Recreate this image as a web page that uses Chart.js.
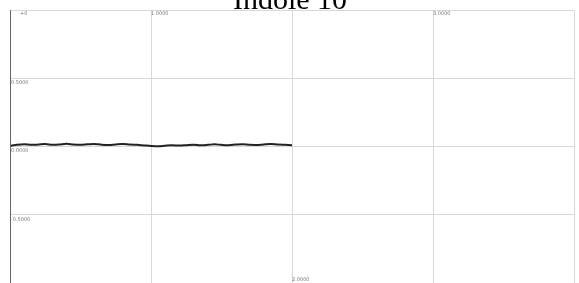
<!DOCTYPE html>
<html>
<head>
<meta charset="utf-8">
<script src="https://cdn.jsdelivr.net/npm/chart.js@4/dist/chart.umd.min.js"></script>
<style>
  html, body { margin: 0; padding: 0; background: #fff; }
  #wrap { width: 579px; height: 283px; position: relative; }
</style>
</head>
<body>
<div id="wrap"><canvas id="c"></canvas></div>
<script>
const titleText = 'Indole 10';
const xValues = [0, 0.05, 0.1, 0.15, 0.2, 0.25, 0.3, 0.35, 0.4, 0.45, 0.5, 0.55, 0.6, 0.65, 0.7, 0.75, 0.8, 0.85, 0.9, 0.95,
  1.0, 1.05, 1.1, 1.15, 1.2, 1.25, 1.3, 1.35, 1.4, 1.45, 1.5, 1.55, 1.6, 1.65, 1.7, 1.75, 1.8, 1.85, 1.9, 1.95, 2.0];
const yValues = [0.004, 0.012, 0.016, 0.012, 0.014, 0.018, 0.013, 0.015, 0.02, 0.014, 0.012, 0.016, 0.019, 0.013, 0.011, 0.015, 0.018, 0.014, 0.012, 0.008,
  0.004, 0.002, 0.006, 0.009, 0.007, 0.01, 0.013, 0.01, 0.012, 0.016, 0.012, 0.01, 0.014, 0.017, 0.012, 0.011, 0.015, 0.018, 0.014, 0.012, 0.01];
const xTickValues = [0, 1, 2, 3];
const xTickLabels = ['+0', '1.0000', '2.0000', '3.0000'];
const xTickAtBottom = [false, false, true, false];
const yTickValues = [0.5, 0, -0.5];
const yTickLabels = ['0.5000', '0.0000', '-0.5000'];

const points = xValues.map((x, i) => ({ x, y: yValues[i] }));

const overlay = {
  id: 'overlay',
  afterDraw(chart) {
    const ctx = chart.ctx;
    const xs = chart.scales.x, ys = chart.scales.y;
    const area = chart.chartArea;
    ctx.save();
    // title, partly above the canvas edge
    ctx.fillStyle = '#000';
    ctx.font = '30px "Liberation Serif", serif';
    ctx.textAlign = 'center';
    ctx.textBaseline = 'alphabetic';
    ctx.fillText(titleText, 290, 9);
    // left axis line
    ctx.strokeStyle = '#666';
    ctx.lineWidth = 1;
    ctx.beginPath();
    ctx.moveTo(area.left + 0.5, area.top);
    ctx.lineTo(area.left + 0.5, area.bottom);
    ctx.stroke();
    // tick labels drawn inside the plot
    ctx.fillStyle = '#777';
    ctx.font = '5px "DejaVu Sans", sans-serif';
    ctx.textAlign = 'left';
    ctx.textBaseline = 'top';
    xTickValues.forEach((v, i) => {
      const px = xs.getPixelForValue(v);
      const off = i === 0 ? 10 : 0;
      const py = xTickAtBottom[i] ? area.bottom - 6 : area.top + 1;
      ctx.fillText(xTickLabels[i], px + off, py);
    });
    yTickValues.forEach((v, i) => {
      const py = ys.getPixelForValue(v);
      ctx.fillText(yTickLabels[i], area.left + 1, py + 2);
    });
    ctx.restore();
  }
};

new Chart(document.getElementById('c'), {
  type: 'line',
  data: {
    datasets: [{
      data: points,
      borderColor: '#222',
      borderWidth: 2,
      pointRadius: 0,
      tension: 0.3,
      fill: false
    }]
  },
  options: {
    responsive: true,
    maintainAspectRatio: false,
    animation: false,
    layout: { padding: { left: 10, top: 10, right: 5, bottom: 0 } },
    plugins: { legend: { display: false }, tooltip: { enabled: false }, title: { display: false } },
    scales: {
      x: {
        type: 'linear', min: 0, max: 4,
        ticks: { display: false, stepSize: 1 },
        grid: { color: '#d8d8d8', drawTicks: false, tickLength: 0 },
        border: { display: false }
      },
      y: {
        min: -1, max: 1,
        ticks: { display: false, stepSize: 0.5 },
        grid: { color: '#d8d8d8', drawTicks: false, tickLength: 0 },
        border: { display: false }
      }
    }
  },
  plugins: [overlay]
});
</script>
</body>
</html>
